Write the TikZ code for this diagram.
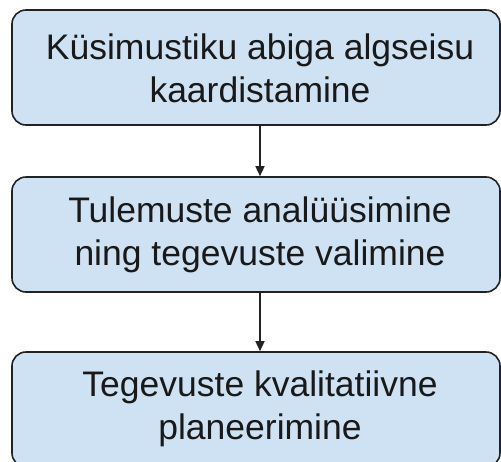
\documentclass[tikz,border=0pt]{standalone}
\usepackage{fontspec}
\setmainfont{Liberation Sans}
\usetikzlibrary{arrows.meta}
\definecolor{boxfill}{HTML}{CFE2F3}
\definecolor{boxline}{HTML}{222222}
\begin{document}
\begin{tikzpicture}[x=1pt,y=1pt,
  stepbox/.style={draw=boxline, fill=boxfill, line width=1.6pt, rounded corners=14pt,
    minimum width=488pt, minimum height=115pt, inner sep=0pt},
  txt/.style={font=\fontsize{35.5}{43}\selectfont, align=center, inner sep=0pt, text=black!90},
  arr/.style={draw=boxline, line width=1.4pt, -{Triangle[length=10pt,width=9pt]}}]
\useasboundingbox (0,0) rectangle (501,-461);
\node[stepbox] (b1) at (256,-67.5) {};
\node[stepbox] (b2) at (256,-234.5) {};
\node[stepbox] (b3) at (256,-409.5) {};
\node[txt] (t1) at (260,-68.5) {Küsimustiku abiga algseisu\\kaardistamine};
\node[txt] (t2) at (260,-234.5) {Tulemuste analüüsimine\\ning tegevuste valimine};
\node[txt] (t3) at (260,-408.5) {Tegevuste kvalitatiivne\\planeerimine};
\draw[arr] (b1.south -| t1) -- (b2.north -| t1);
\draw[arr] (b2.south -| t2) -- (b3.north -| t2);
\end{tikzpicture}
\end{document}
